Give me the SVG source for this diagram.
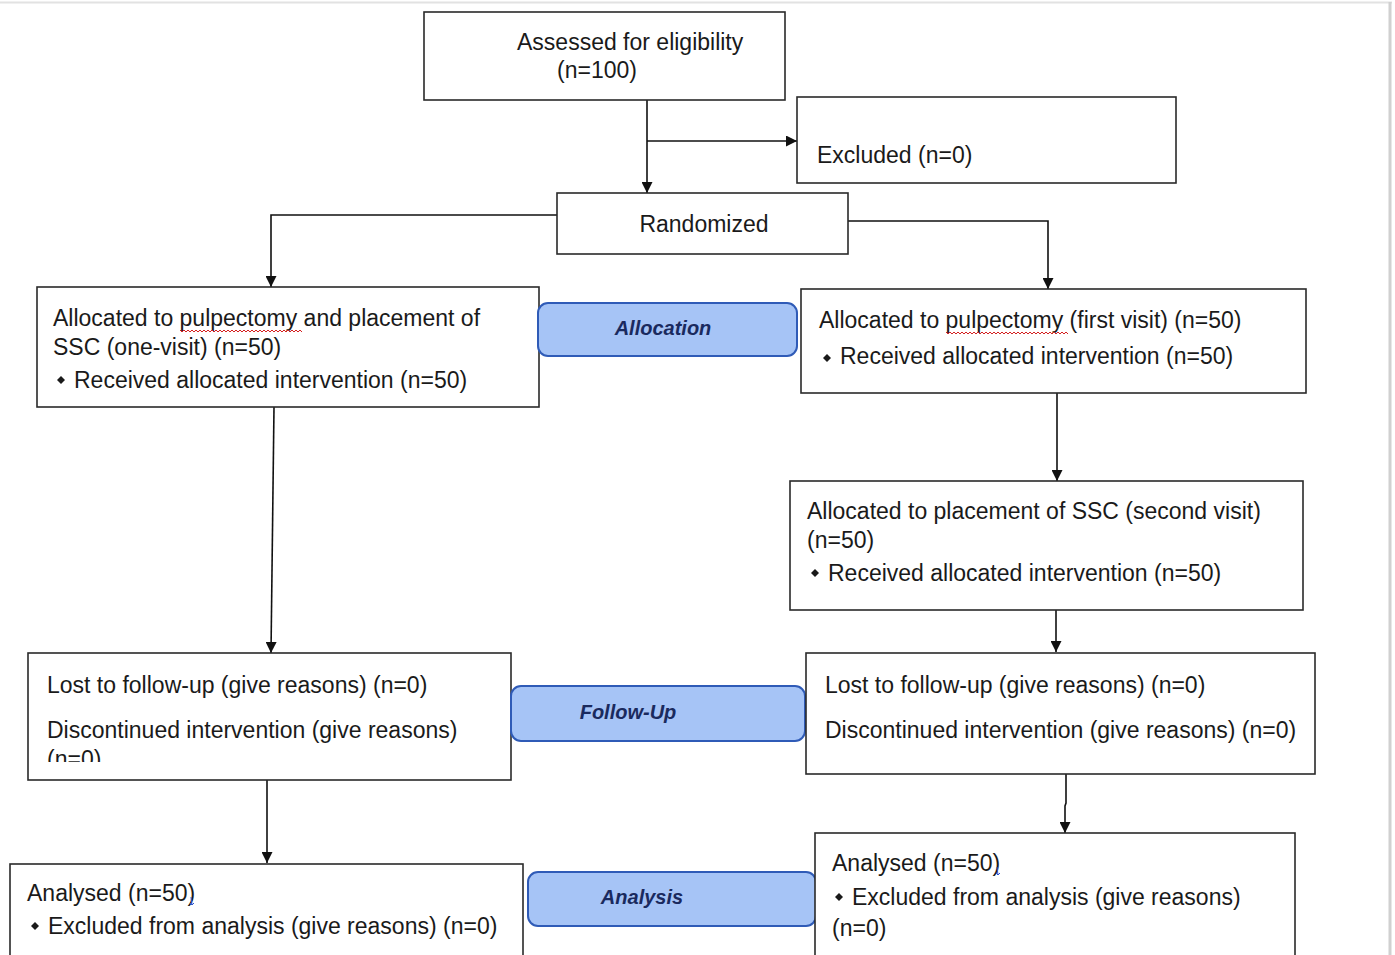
<svg xmlns="http://www.w3.org/2000/svg" width="1395" height="955" viewBox="0 0 1395 955">
<defs>
<marker id="arr" viewBox="0 0 10 10" refX="10" refY="5" markerWidth="12" markerHeight="11" markerUnits="userSpaceOnUse" orient="auto">
<path d="M0,0 L10,5 L0,10 z" fill="#111"/>
</marker>
<clipPath id="clipFU"><rect x="28" y="653" width="483" height="109"/></clipPath>
<style>
.box{fill:#fff;stroke:#2a2a2a;stroke-width:1.6}
.pill{fill:#a6c4f6;stroke:#2f5bb7;stroke-width:2}
.t{font-family:"Liberation Sans",Arial,sans-serif;font-size:23px;fill:#1a1a1a}
.pt{font-family:"Liberation Sans",Arial,sans-serif;font-size:20px;font-weight:bold;font-style:italic;fill:#1a2a5e}
.c{fill:none;stroke:#111;stroke-width:1.6}
.sq{fill:none;stroke:#d42020;stroke-width:1}
.bl{fill:#1a1a1a}
</style>
</defs>
<rect x="0" y="0" width="1395" height="955" fill="#fff"/>
<line x1="0" y1="2.5" x2="1392" y2="2.5" stroke="#e2e2e2" stroke-width="2"/>
<line x1="1390" y1="2" x2="1390" y2="955" stroke="#d0d0d0" stroke-width="3"/>

<g id="connectors">
<path class="c" d="M647,92 L647,193" marker-end="url(#arr)"/>
<path class="c" d="M647,141 L797,141" marker-end="url(#arr)"/>
<path class="c" d="M557,215 L271,215 L271,287" marker-end="url(#arr)"/>
<path class="c" d="M848,221 L1048,221 L1048,289" marker-end="url(#arr)"/>
<path class="c" d="M1057,393 L1057,481" marker-end="url(#arr)"/>
<path class="c" d="M274,407 L271,653" marker-end="url(#arr)"/>
<path class="c" d="M1056,610 L1056,652" marker-end="url(#arr)"/>
<path class="c" d="M267,780 L267,863" marker-end="url(#arr)"/>
<path class="c" d="M1066,774 L1066,803 L1065,806 L1065,833" marker-end="url(#arr)"/>
</g>

<g id="assessed">
<rect class="box" x="424" y="12" width="361" height="88"/>
<text class="t" x="517" y="50">Assessed for eligibility</text>
<text class="t" x="557" y="78">(n=100)</text>
</g>

<g id="excluded">
<rect class="box" x="797" y="97" width="379" height="86"/>
<text class="t" x="817" y="163">Excluded (n=0)</text>
</g>

<g id="randomized">
<rect class="box" x="557" y="193" width="291" height="61"/>
<text class="t" x="704" y="232" text-anchor="middle">Randomized</text>
</g>

<g id="alloc-left">
<rect class="box" x="37" y="287" width="502" height="120"/>
<text class="t" x="53" y="326">Allocated to pulpectomy and placement of</text>
<path class="sq" d="M180,330 l2,2 l2,-2 l2,2 l2,-2 l2,2 l2,-2 l2,2 l2,-2 l2,2 l2,-2 l2,2 l2,-2 l2,2 l2,-2 l2,2 l2,-2 l2,2 l2,-2 l2,2 l2,-2 l2,2 l2,-2 l2,2 l2,-2 l2,2 l2,-2 l2,2 l2,-2 l2,2 l2,-2 l2,2 l2,-2 l2,2 l2,-2 l2,2 l2,-2 l2,2 l2,-2 l2,2 l2,-2 l2,2 l2,-2 l2,2 l2,-2 l2,2 l2,-2 l2,2 l2,-2 l2,2 l2,-2 l2,2 l2,-2 l2,2 l2,-2 l2,2 l2,-2 l2,2 l2,-2 l2,2 l2,-2 l2,2"/>
<text class="t" x="53" y="355">SSC (one-visit) (n=50)</text>
<polygon class="bl" points="61,376 65,380 61,384 57,380"/>
<text class="t" x="74" y="388">Received allocated intervention (n=50)</text>
</g>

<g id="allocation-label">
<rect class="pill" x="538" y="303" width="259" height="53" rx="10"/>
<text class="pt" x="663" y="335" text-anchor="middle">Allocation</text>
</g>

<g id="alloc-right">
<rect class="box" x="801" y="289" width="505" height="104"/>
<text class="t" x="819" y="328">Allocated to pulpectomy (first visit) (n=50)</text>
<path class="sq" d="M946,332 l2,2 l2,-2 l2,2 l2,-2 l2,2 l2,-2 l2,2 l2,-2 l2,2 l2,-2 l2,2 l2,-2 l2,2 l2,-2 l2,2 l2,-2 l2,2 l2,-2 l2,2 l2,-2 l2,2 l2,-2 l2,2 l2,-2 l2,2 l2,-2 l2,2 l2,-2 l2,2 l2,-2 l2,2 l2,-2 l2,2 l2,-2 l2,2 l2,-2 l2,2 l2,-2 l2,2 l2,-2 l2,2 l2,-2 l2,2 l2,-2 l2,2 l2,-2 l2,2 l2,-2 l2,2 l2,-2 l2,2 l2,-2 l2,2 l2,-2 l2,2 l2,-2 l2,2 l2,-2 l2,2 l2,-2 l2,2"/>
<polygon class="bl" points="827,354 831,358 827,362 823,358"/>
<text class="t" x="840" y="364">Received allocated intervention (n=50)</text>
</g>

<g id="second-visit">
<rect class="box" x="790" y="481" width="513" height="129"/>
<text class="t" x="807" y="519">Allocated to placement of SSC (second visit)</text>
<text class="t" x="807" y="548">(n=50)</text>
<polygon class="bl" points="815,569 819,573 815,577 811,573"/>
<text class="t" x="828" y="581">Received allocated intervention (n=50)</text>
</g>

<g id="followup-left">
<rect class="box" x="28" y="653" width="483" height="127"/>
<text class="t" x="47" y="693">Lost to follow-up (give reasons) (n=0)</text>
<text class="t" x="47" y="738">Discontinued intervention (give reasons)</text>
<text class="t" x="47" y="767" clip-path="url(#clipFU)">(n=0)</text>
</g>

<g id="followup-label">
<rect class="pill" x="511" y="686" width="294" height="55" rx="10"/>
<text class="pt" x="628" y="719" text-anchor="middle">Follow-Up</text>
</g>

<g id="followup-right">
<rect class="box" x="806" y="653" width="509" height="121"/>
<text class="t" x="825" y="693">Lost to follow-up (give reasons) (n=0)</text>
<text class="t" x="825" y="738">Discontinued intervention (give reasons) (n=0)</text>
</g>

<g id="analysis-left">
<rect class="box" x="10" y="864" width="513" height="100"/>
<text class="t" x="27" y="901">Analysed (n=50)</text>
<path d="M191,897 l1,8 l-2,-2 m2,2 l2,-2" fill="none" stroke="#2d4fcf" stroke-width="1"/>
<polygon class="bl" points="35,922 39,926 35,930 31,926"/>
<text class="t" x="48" y="934">Excluded from analysis (give reasons) (n=0)</text>
</g>

<g id="analysis-label">
<rect class="pill" x="528" y="872" width="288" height="54" rx="10"/>
<text class="pt" x="642" y="904" text-anchor="middle">Analysis</text>
</g>

<g id="analysis-right">
<rect class="box" x="815" y="833" width="480" height="130"/>
<text class="t" x="832" y="871">Analysed (n=50)</text>
<path d="M997,867 l1,8 l-2,-2 m2,2 l2,-2" fill="none" stroke="#2d4fcf" stroke-width="1"/>
<polygon class="bl" points="839,893 843,897 839,901 835,897"/>
<text class="t" x="852" y="905">Excluded from analysis (give reasons)</text>
<text class="t" x="832" y="936">(n=0)</text>
</g>
</svg>
